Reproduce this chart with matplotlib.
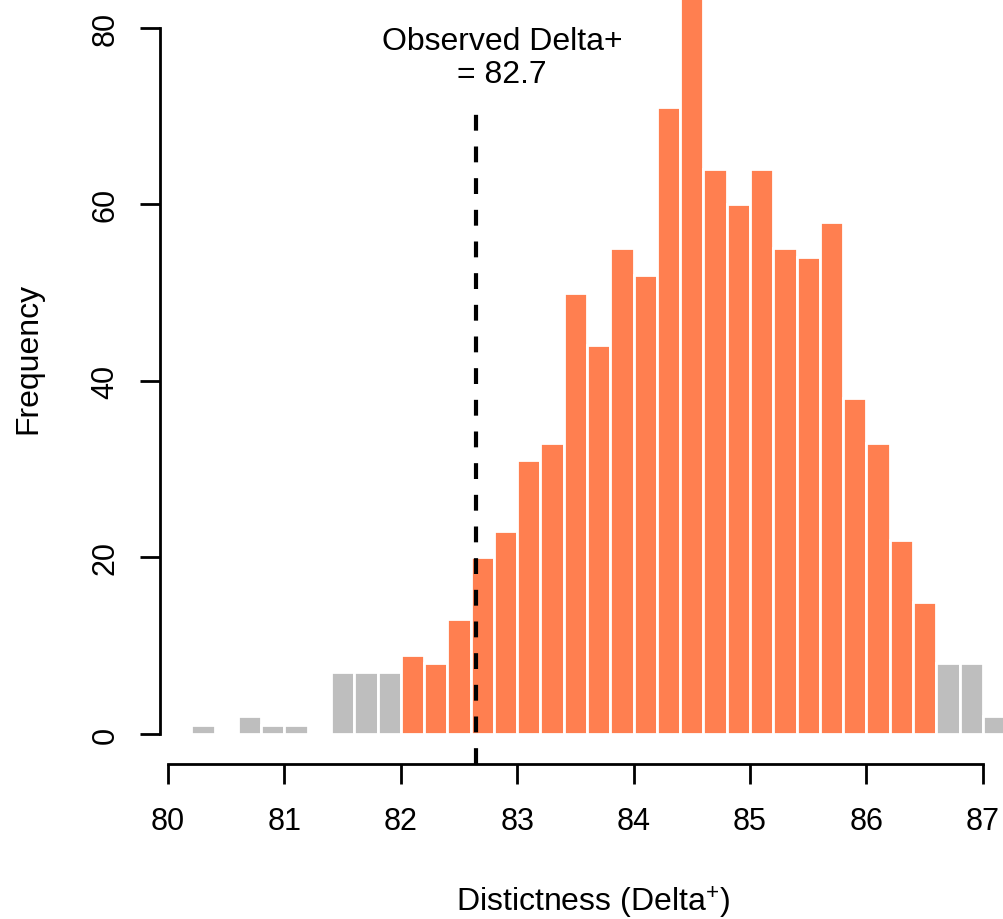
"""
Null distribution of taxonomic distinctness (Delta+) with observed value.
"""

import matplotlib
matplotlib.use("Agg")
import matplotlib.pyplot as plt
import numpy as np

# ── Data ─────────────────────────────────────────────────────────────────────
BIN_START = 80.2
BIN_WIDTH = 0.2
counts = [1, 0, 2, 1, 1, 0, 7, 7, 7,
          9, 8, 13, 20, 23, 31, 33, 50, 44, 55, 52, 71, 84,
          64, 60, 64, 55, 54, 58, 38, 33, 22, 15,
          8, 8, 2]
ci_low, ci_high = 82.0, 86.6          # bins outside this range drawn grey
observed = 82.65
observed_label = "Observed Delta+\n= 82.7"
x_ticks = [80, 81, 82, 83, 84, 85, 86, 87]
y_ticks = [0, 20, 40, 60, 80]

# ── Style ────────────────────────────────────────────────────────────────────
CORAL = "#FF7F50"
GREY = "#BEBEBE"
FS_TICK = 22
FS_TEXT = 23
plt.rcParams["font.family"] = ["Liberation Sans", "DejaVu Sans"]
plt.rcParams["mathtext.fontset"] = "custom"
plt.rcParams["mathtext.rm"] = "Liberation Sans"
plt.rcParams["mathtext.it"] = "Liberation Sans"

edges = BIN_START + BIN_WIDTH * np.arange(len(counts))
colors = [CORAL if (ci_low - 1e-9 <= e < ci_high - 1e-9) else GREY for e in edges]

fig = plt.figure(figsize=(10.04, 9.2), dpi=100)
ax = fig.add_axes([0, 0, 1, 1])

ax.bar(edges, counts, width=BIN_WIDTH, align="edge", color=colors,
       edgecolor="white", linewidth=2.0, zorder=2)

# observed value
ax.plot([observed, observed], [-3.4, 71.0], color="black", lw=3,
        dashes=(3.8, 3.8), zorder=3, solid_capstyle="butt")
ax.text(82.87, 73.0, observed_label, ha="center", va="bottom",
        fontsize=FS_TEXT, linespacing=1.15)

# pixel-matched limits (axis fills the whole figure)
ax.set_xlim(78.557, 87.182)
ax.set_ylim(-20.95, 83.24)

# R-style detached axes
for s in ("top", "right"):
    ax.spines[s].set_visible(False)
ax.spines["left"].set_position(("data", 79.931))
ax.spines["left"].set_bounds(0, 80)
ax.spines["bottom"].set_position(("data", -3.4))
ax.spines["bottom"].set_bounds(80, 87)
for s in ("left", "bottom"):
    ax.spines[s].set_linewidth(2)

ax.set_xticks(x_ticks)
ax.set_yticks(y_ticks)
ax.tick_params(axis="both", direction="out", length=14.4, width=2,
               labelsize=FS_TICK)
ax.tick_params(axis="x", pad=16)
ax.tick_params(axis="y", pad=14, labelrotation=90)
for lbl in ax.get_yticklabels():
    lbl.set_va("center")

fig.text(28 / 1004, 1 - 358 / 920, "Frequency", rotation=90,
         ha="center", va="center", fontsize=FS_TEXT)
fig.text(593 / 1004, 1 - 912 / 920, "Distictness (Delta$^{+}$)",
         ha="center", va="baseline", fontsize=FS_TEXT)

fig.savefig("out.png", dpi=100, facecolor="white")
